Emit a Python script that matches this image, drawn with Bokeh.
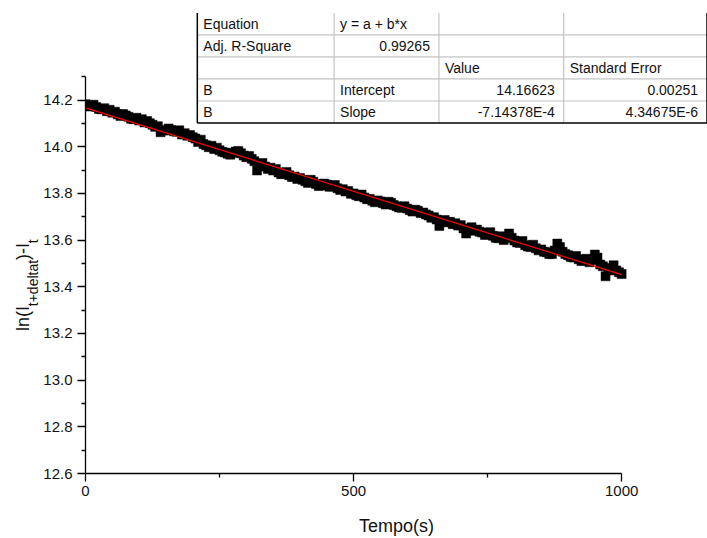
from bokeh.plotting import figure
from bokeh.layouts import row
from bokeh.models import Range1d, FixedTicker, NumeralTickFormatter
from bokeh.embed import file_html
from bokeh.resources import INLINE
from bokeh.core.properties import value
import math

# ---- data: time (s) and ln(I_{t+deltat}) - I_t ----
tempo = list(range(0, 1001, 5))
ln_ratio = [
    14.182, 14.172, 14.176, 14.180, 14.170, 14.162, 14.160, 14.165, 14.152, 14.158,
    14.146, 14.150, 14.139, 14.132, 14.140, 14.134, 14.128, 14.120, 14.118, 14.124,
    14.112, 14.118, 14.104, 14.110, 14.101, 14.094, 14.085, 14.088, 14.062, 14.070,
    14.070, 14.078, 14.072, 14.066, 14.064, 14.070, 14.052, 14.058, 14.047, 14.050,
    14.041, 14.035, 14.020, 14.030, 14.012, 14.006, 13.998, 14.004, 13.990, 13.996,
    13.985, 13.978, 13.975, 13.970, 13.966, 13.973, 13.979, 13.982, 13.972, 13.962,
    13.955, 13.960, 13.948, 13.938, 13.898, 13.925, 13.930, 13.915, 13.905, 13.910,
    13.898, 13.905, 13.890, 13.882, 13.885, 13.892, 13.878, 13.870, 13.872, 13.862,
    13.866, 13.858, 13.852, 13.845, 13.858, 13.850, 13.840, 13.832, 13.834, 13.842,
    13.838, 13.828, 13.830, 13.836, 13.822, 13.815, 13.818, 13.808, 13.810, 13.798,
    13.800, 13.792, 13.788, 13.795, 13.782, 13.775, 13.776, 13.768, 13.762, 13.770,
    13.765, 13.758, 13.752, 13.764, 13.760, 13.750, 13.745, 13.740, 13.738, 13.745,
    13.735, 13.728, 13.722, 13.730, 13.726, 13.716, 13.718, 13.710, 13.705, 13.696,
    13.698, 13.688, 13.660, 13.680, 13.686, 13.676, 13.678, 13.668, 13.672, 13.662,
    13.664, 13.650, 13.628, 13.648, 13.655, 13.640, 13.645, 13.636, 13.632, 13.622,
    13.625, 13.634, 13.618, 13.610, 13.608, 13.616, 13.600, 13.610, 13.628, 13.610,
    13.598, 13.590, 13.588, 13.596, 13.578, 13.572, 13.570, 13.580, 13.565, 13.556,
    13.560, 13.550, 13.548, 13.540, 13.540, 13.555, 13.585, 13.570, 13.550, 13.540,
    13.535, 13.528, 13.525, 13.532, 13.518, 13.510, 13.512, 13.520, 13.505, 13.515,
    13.538, 13.525, 13.495, 13.488, 13.445, 13.470, 13.480, 13.492, 13.470, 13.462,
    13.455,
]

# ---- linear fit y = a + b*x ----
fit_intercept = 14.16623
fit_slope = -7.14378e-4
fit_intercept_se = 0.00251
fit_slope_se = 4.34675e-6
adj_r_square = 0.99265
fit_x = [0, 1000]

# ---- axes ----
x_ticks = [0, 500, 1000]
x_minor_ticks = [250, 750]
y_ticks = [12.6, 12.8, 13.0, 13.2, 13.4, 13.6, 13.8, 14.0, 14.2]
y_minor_ticks = [12.7, 12.9, 13.1, 13.3, 13.5, 13.7, 13.9, 14.1, 14.3]
x_bounds = (0, 1000)
y_bounds = (12.6, 14.3)

W, H = 707, 538
TITLE_W = 40          # strip holding the rotated y-axis title
LEFT, BOTTOM = 84, 63
FONT = "Liberation Sans"
INK = "#111111"

frame_w = W - LEFT
frame_h = H - BOTTOM
px_per_x = 537 / 1000.0          # screen px per second
px_per_y = 398.5 / 1.7           # screen px per unit of ln
x_end = frame_w / px_per_x
y_end = y_bounds[0] + frame_h / px_per_y

p = figure(width=W - TITLE_W, height=H, output_backend="svg", toolbar_location=None,
           x_range=Range1d(0, x_end), y_range=Range1d(y_bounds[0], y_end),
           min_border_left=LEFT - TITLE_W, min_border_right=0, min_border_top=0,
           min_border_bottom=BOTTOM)
p.outline_line_color = None
p.xgrid.visible = False
p.ygrid.visible = False
p.background_fill_color = "white"
p.border_fill_color = "white"

# window-pixel ranges, used for the results table
p.extra_x_ranges = {"cx": Range1d(LEFT, W)}
p.extra_y_ranges = {"cy": Range1d(frame_h, 0)}

for ax in (p.xaxis[0], p.yaxis[0]):
    ax.axis_line_color = "black"
    ax.axis_line_width = 1.3
    ax.major_tick_line_color = "black"
    ax.minor_tick_line_color = "black"
    ax.major_tick_line_width = 1.3
    ax.minor_tick_line_width = 1.3
    ax.major_tick_in = 0
    ax.major_tick_out = 8
    ax.minor_tick_in = 0
    ax.minor_tick_out = 4
    ax.major_label_text_font = FONT
    ax.major_label_text_font_size = "15px"
    ax.major_label_text_color = INK

p.xaxis.bounds = x_bounds
p.yaxis.bounds = y_bounds
p.xaxis.ticker = FixedTicker(ticks=x_ticks, minor_ticks=x_minor_ticks)
p.yaxis.ticker = FixedTicker(ticks=y_ticks, minor_ticks=y_minor_ticks)
p.yaxis.formatter = NumeralTickFormatter(format="0.0")
p.xaxis.major_label_standoff = 4
p.yaxis.major_label_standoff = 5

p.xaxis.axis_label = "Tempo(s)"
p.xaxis.axis_label_text_font = FONT
p.xaxis.axis_label_text_font_size = "18px"
p.xaxis.axis_label_text_font_style = "normal"
p.xaxis.axis_label_text_color = INK
p.xaxis.axis_label_standoff = 17

# ---- data points and fitted line ----
p.scatter(tempo, ln_ratio, marker="square", size=9,
          fill_color="black", line_color="black", line_width=0.5)
fit_y = [fit_intercept + fit_slope * x for x in fit_x]
p.line(fit_x, fit_y, line_color="#ff0000", line_width=1.2)

# ---- results table ----
def sci(v):
    mant, ex = f"{v:.5E}".split("E")
    return f"{mant}E{int(ex)}"

col_edges = [196, 333, 438, 563, 706.5]
row_top = 12.5
row_h = 22.1
n_rows = 5
row_edges = [row_top + i * row_h for i in range(n_rows + 1)]

cells_left = [
    (0, 0, "Equation"), (0, 1, "y = a + b*x"),
    (1, 0, "Adj. R-Square"),
    (2, 2, "Value"), (2, 3, "Standard Error"),
    (3, 0, "B"), (3, 1, "Intercept"),
    (4, 0, "B"), (4, 1, "Slope"),
]
cells_right = [
    (1, 1, f"{adj_r_square:.5f}"),
    (3, 2, f"{fit_intercept:.5f}"), (3, 3, f"{fit_intercept_se:.5f}"),
    (4, 2, sci(fit_slope)), (4, 3, sci(fit_slope_se)),
]

tab = dict(x_range_name="cx", y_range_name="cy")
p.quad(left=[col_edges[0]], right=[col_edges[-1]], top=[row_edges[0]],
       bottom=[row_edges[-1]], fill_color="white", line_color=None, **tab)

# inner grid (grey)
p.segment(x0=[col_edges[0]] * (n_rows - 1), x1=[col_edges[-1]] * (n_rows - 1),
          y0=row_edges[1:-1], y1=row_edges[1:-1],
          line_color="#c4c4c4", line_width=1.2, **tab)
p.segment(x0=col_edges[1:-1], x1=col_edges[1:-1],
          y0=[row_edges[0]] * 3, y1=[row_edges[-1]] * 3,
          line_color="#c4c4c4", line_width=1.2, **tab)
# outer border (black): left, right, bottom
p.segment(x0=[col_edges[0], col_edges[-1], col_edges[0]],
          x1=[col_edges[0], col_edges[-1], col_edges[-1]],
          y0=[row_edges[0], row_edges[0], row_edges[-1]],
          y1=[row_edges[-1], row_edges[-1], row_edges[-1]],
          line_color="black", line_width=1.5, **tab)

pad_l, pad_r = 6, 9
p.text(x=[col_edges[c] + pad_l for r, c, t in cells_left],
       y=[row_edges[r] + row_h / 2 for r, c, t in cells_left],
       text=[t for r, c, t in cells_left],
       text_align="left", text_baseline="middle",
       text_font=value(FONT), text_font_size="14px", text_color=INK, **tab)
p.text(x=[col_edges[c + 1] - pad_r for r, c, t in cells_right],
       y=[row_edges[r] + row_h / 2 for r, c, t in cells_right],
       text=[t for r, c, t in cells_right],
       text_align="right", text_baseline="middle",
       text_font=value(FONT), text_font_size="14px", text_color=INK, **tab)

# ---- y-axis title with subscripts, written upwards, in its own strip ----
# the strip's frame shares the main frame's height (0 .. frame_h)
t = figure(width=TITLE_W, height=H, output_backend="svg", toolbar_location=None,
           x_range=Range1d(0, TITLE_W), y_range=Range1d(frame_h, 0),
           x_axis_location=None, y_axis_location=None,
           min_border=0, min_border_left=0, min_border_right=0,
           min_border_top=0, min_border_bottom=BOTTOM)
t.grid.visible = False
t.outline_line_color = None
t.background_fill_color = "white"
t.border_fill_color = "white"

arial_w = {"l": 0.222, "n": 0.556, "(": 0.333, ")": 0.333, "I": 0.278,
           "t": 0.278, "+": 0.584, "d": 0.556, "e": 0.556, "a": 0.556, "-": 0.333}
title_parts = [("ln(I", 18, False), ("t+deltat", 14, True),
               (")-I", 18, False), ("t", 14, True)]
main_base_x = 22.0
sub_base_x = 32.0
cursor_y = 332.0
for txt, size, is_sub in title_parts:
    t.text(x=[sub_base_x if is_sub else main_base_x], y=[cursor_y], text=[txt],
           angle=math.pi / 2, text_align="left", text_baseline="alphabetic",
           text_font=value(FONT), text_font_size=f"{size}px", text_color=INK)
    cursor_y -= sum(arial_w[c] for c in txt) * size

layout = row(t, p, spacing=0)
open("out.html", "w").write(file_html(layout, INLINE))
